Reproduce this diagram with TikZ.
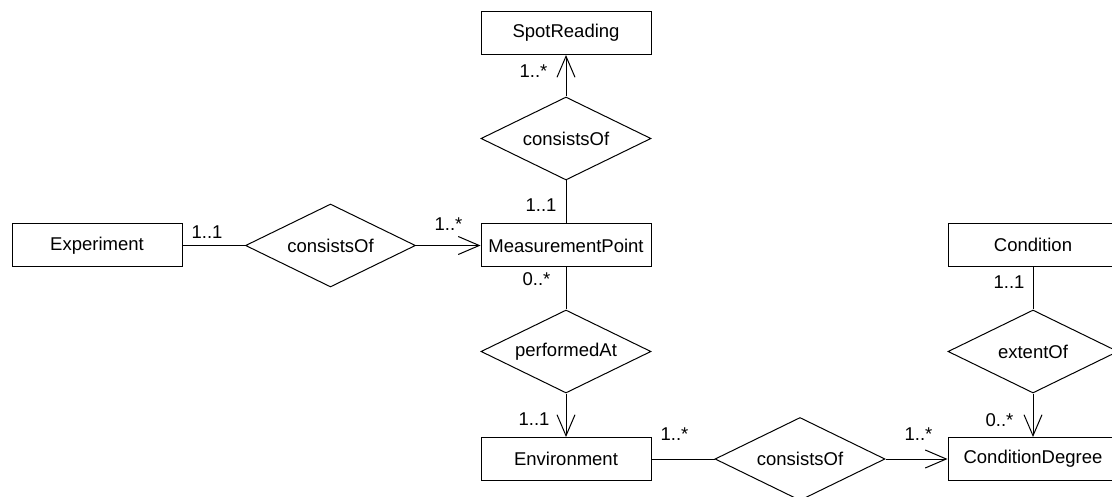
\documentclass[tikz,border=0pt]{standalone}
\usepackage{fontspec}
\setmainfont{Liberation Sans}
\usetikzlibrary{shapes.geometric,arrows.meta}
\begin{document}
\begin{tikzpicture}[x=1pt,y=-1pt,
  every node/.style={font=\fontsize{18.5}{21}\selectfont},
  entity/.style={draw,line width=1pt,minimum width=170pt,minimum height=43pt,inner sep=0pt},
  relation/.style={draw,line width=1pt,diamond,aspect=2,minimum width=170pt,minimum height=83pt,inner sep=0pt},
  card/.style={inner sep=0pt,text depth=0pt},
  link/.style={line width=1pt},
  navlink/.style={line width=1pt,-{Straight Barb[length=21pt,width=18pt,line width=1pt]}}]
\useasboundingbox (0,0) rectangle (1112,497);
\clip (0,0) rectangle (1112,497);

% entities
\node[entity] (spot) at (566,33) {SpotReading};
\node[entity] (exp) at (97,245.5) {Experiment};
\node[entity] (mp) at (566,245.5) {MeasurementPoint};
\node[entity] (cond) at (1033,245) {Condition};
\node[entity] (env) at (566,459) {Environment};
\node[entity] (cdeg) at (1033,459) {ConditionDegree};

% relationships
\node[relation] (relspot) at (566,138.5) {consistsOf};
\node[relation] (relexp) at (330.5,245.5) {consistsOf};
\node[relation] (relperf) at (566,351.5) {performedAt};
\node[relation] (relext) at (1033,351.5) {extentOf};
\node[relation] (relenv) at (800,459) {consistsOf};

% connectors
\draw[navlink] (relspot.north) -- (spot.south);
\draw[link] (relspot.south) -- (mp.north);
\draw[link] (exp.east) -- (relexp.west);
\draw[navlink] (relexp.east) -- (mp.west);
\draw[link] (mp.south) -- (relperf.north);
\draw[navlink] (relperf.south) -- (env.north);
\draw[link] (env.east) -- (relenv.west);
\draw[navlink] (relenv.east) -- (cdeg.west);
\draw[link] (cond.south) -- (relext.north);
\draw[navlink] (relext.south) -- (cdeg.north);

% cardinalities
\node[card] (c1) at (533.5,71) {1..*};
\node[card] (c2) at (541,205) {1..1};
\node[card] (c3) at (207,232) {1..1};
\node[card] (c4) at (448.5,224) {1..*};
\node[card] (c5) at (536.5,279) {0..*};
\node[card] (c6) at (534,419) {1..1};
\node[card] (c7) at (674.5,434) {1..*};
\node[card] (c8) at (918.5,434) {1..*};
\node[card] (c9) at (1009,282) {1..1};
\node[card] (c10) at (999.5,420) {0..*};
\end{tikzpicture}
\end{document}
